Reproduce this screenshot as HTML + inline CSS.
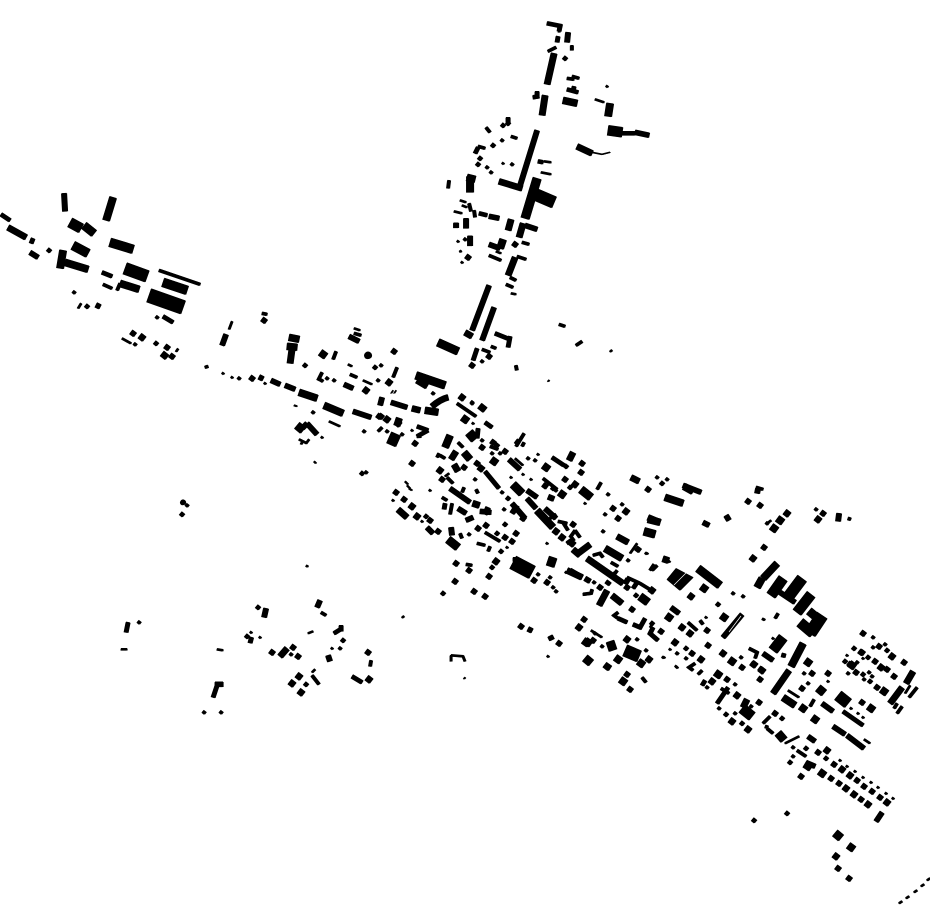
<!DOCTYPE html>
<html><head><meta charset="utf-8"><title>Map</title>
<style>html,body{margin:0;padding:0;background:#fff}svg{display:block}</style></head>
<body>
<svg xmlns="http://www.w3.org/2000/svg" width="930" height="924" viewBox="0 0 930 924" fill="none" stroke="#000" stroke-linejoin="miter">
<rect width="930" height="924" fill="#fff" stroke="none"/>
<g id="m">
<path stroke-width="1" d="M592 152L602 154L610 152M391 393l2-3M394 393l2-3"/>
<path stroke-width="1.5" d="M405 481l3 3M407 485l3 3M409 488l3 2M294 405l3 1M314 461l2 2"/>
<path stroke-width="2" d="M560 25L559 32M460 200L466 202M454 211L462 213M462 205l5 2M348 364L352 366M363 380L372 384M541 172L551 174M544 161L551 162M496 251L501 253M595 99L604 102M511 293L516 294M460 250L461 252M217 649L223 650M121 649L127 649M313 631l-5 2M449 473L445 476M515 458L523 465M518 439L515 443M637 543L630 553M591 630L602 637M788 690L799 697M864 739L870 743M785 743L799 736M910 685L905 693M767 523l4-3M666 558l4 4M650 627l3-4M451 655L451 661M451 655L463 656L465 661M329 421L340 426M309 439l-3 4M548 380l1 1M899 903l3-2M906 898l3-2M914 892l3-2M921 886l3-2M927 880l3-2M315 669L312 672M232 321l-3 8M81 303l-3 5M122 338l9 5M299 439L307 443M303 440L301 444M354 328L360 330"/>
<path stroke-width="3" d="M567 78L574 79M572 76L579 78M486 127L490 132M511 136L517 138M478 146L485 148M469 203L471 211M474 210L475 217M522 242L529 244M489 255L501 260M517 256L526 259M510 277L516 280M506 284L513 287M449 180L448 188M457 403L476 416M496 348l-5-2M482 349L490 352M397 367L393 377M336 351L333 359M354 333L361 335M350 374L357 377M322 372L318 380M318 378L323 381M262 313L267 314M205 367l3-1M382 427L378 431M421 436L417 436M524 433L516 446M524 442L522 446M458 442L463 447M490 446L498 449M437 457l2-4M440 455L445 458M447 477L453 483M464 487L462 492M476 489L478 493M543 478L557 489M601 482L597 489M553 488l4 3M442 497L447 500M452 503L450 514M460 533L462 538M485 532L500 541M477 543L485 545M490 546l-2 5M466 564L472 565M592 589L591 593L583 594M611 562L618 566M617 570L614 574M593 555L600 553L603 557M657 565L652 570M650 570l4-6M627 577L640 583M640 583L653 591M688 622L697 630M700 620L703 624M695 663L689 667L693 670M702 670L698 674M642 677L646 682M618 612L614 615L618 618M653 627L650 633M756 487L763 489M764 618l-1 2M778 613l-3 5M749 648L757 652L755 658M721 688L729 693M770 716L763 723M767 728L773 733M767 725l-1 3M917 687L909 697M897 703L894 708M902 706L897 713M814 699L810 706M806 756L797 750M559 324L565 326M576 345L582 341M159 270L200 284M120 283L117 290M321 612L326 615M312 675L319 684M371 660L370 666M103 284L112 288M548 51L556 47M550 518L556 514M558 521L567 523M563 522L568 530M575 530L580 537M570 537L575 530M615 572L612 577"/>
<path stroke-width="4" d="M547 23L562 26M558 36L557 42M574 86L573 91M567 89L578 92M508 117l0 5M560 25l-1 6M1 214L10 220M33 238L31 243M477 348L473 360M537 91l0 6M533 97L539 96M478 147L475 153M128 622L126 632M217 685L213 697M352 676L362 682M622 133L635 133M479 213L487 215M102 272L112 276M163 316L173 322M510 336L508 347M495 333L510 339M417 426L428 430M428 430L417 436M485 422L492 427M478 428L477 438M552 457L564 465M485 471L499 488M843 711L863 725M633 624L640 627L645 618M653 627L650 633L658 640M618 618L627 622M637 582L633 588M705 680L702 685M728 687L717 703M334 633L342 628M341 625L341 631M513 559L516 559M784 653L783 657M606 581L610 584M538 161L543 162M445 503L444 509M567 543L574 538"/>
<path stroke-width="5" d="M537 130L520 185M489 285L472 330M494 307L482 340M226 334L222 345M64 193L65 211M568 32L567 42M635 132L649 135M489 216L499 218M525 225L537 229M489 244L500 248M30 252L38 257M353 411L371 417M271 380L280 384M285 385L295 389M344 384L353 388M391 402L407 407M380 405L382 397M512 503L525 518M517 505L512 513M527 490L537 497M527 498L536 508M545 508L556 518M450 488L470 502M466 520L473 517M488 507L485 514M480 511L491 512M458 508L466 513M570 570L582 577M585 578L590 581M665 497l5 2M683 485L701 492M742 614L723 637M763 653L773 660M792 665L803 643M822 703L833 711M833 726L845 734M847 735L864 748M808 736L815 741M805 768L808 763L815 766M671 607L679 613M307 423L317 434M266 608L264 617M320 600L317 607M328 655L330 661M509 459l11 10M543 484l4 3M215 684L223 684M466 218L466 228M349 336L359 341M427 527L433 533M451 527L452 535M882 812L876 821M780 592L795 602M839 513L838 521M307 423L302 428M703 522l6 3M726 515l3 5M758 488L757 493"/>
<path stroke-width="6" d="M554 53L547 84M545 95L542 115M499 181L522 188M511 219L508 230M523 223L519 237M515 257L508 275M577 146L592 153M8 227L26 237M292 348L290 363M465 332L472 336M417 380L427 386M432 406Q440 399 448 397M412 408L420 410M451 459l5-8M454 464L458 471M552 495l-2 5M513 484l9 9M578 553L590 544M573 549L580 555M587 558L623 583M607 590L599 605M612 595L622 603M648 517L660 522M567 570l15 7M617 536L628 542M718 674l3 2M789 670L773 693M913 671L906 683M902 687L890 703M287 648L280 656M607 666l3 2M162 353l5 4M398 509L407 517M573 452L569 460M631 477L639 481M743 707L747 699"/>
<path stroke-width="7" d="M610 103L608 116M470 176L470 192M467 177L475 179M425 410L438 412M299 392L317 398M324 405L343 413M289 337L299 339M287 346L297 347M106 220L113 197M60 268L63 250M65 262L88 269M120 283L139 289M477 501L475 507M450 435L445 447M605 548L622 558M537 510L553 527M665 497L683 503M648 519l12 3M783 697L795 705M803 643L791 666M777 563L763 578M762 578L757 587M464 452l6 7M563 100L577 103M503 239L500 248M684 486L693 491"/>
<path stroke-width="8" d="M438 342L458 351M448 539L458 547M581 489L591 497M644 531L655 534M698 568L720 585M553 557L550 566M610 641L613 650M513 484l9 9M84 225l10 8M416 375L445 385M297 425L303 430M640 596L648 602"/>
<path stroke-width="9" d="M469 432L475 439M73 245L88 253M110 242L133 249M163 282L187 290"/>
<path stroke-width="10" d="M608 130L622 132M70 222L81 228M783 578L771 595M811 594L797 612M800 622L813 633M783 637L773 650"/>
<path stroke-width="11" d="M802 578L787 598M838 695L848 703"/>
<path stroke-width="12" d="M533 193L554 202M125 268L147 276M389 437L398 441M822 615L810 633M625 650L639 656"/>
<path stroke-width="14" d="M149 295L183 307M513 562L532 572"/>
<path stroke-width="8.5" d="M537 178L525 218"/>
<path stroke="none" fill="#000" d="M676 568L693 577L680 590L667 579Z"/>
<circle cx="368" cy="355" r="3.5" fill="#000" stroke="none"/>
<circle cx="183" cy="502" r="2.6" fill="#000" stroke="none"/>
<g stroke-width="2" transform="translate(-1,-.7)"><path d="M607 86l2 1.5M503 163l2 1.5M458 241l2 1.5M462 262l2 1.5M223 373l2 1.5M232 377l2 1.5M265 383l2 1.5M412 430l2 1.5M322 437l2 1.5M585 503l2 1.5M473 423l2 1.5M511 477l2 1.5M523 474l2 1.5M531 479l2 1.5M538 454l2 1.5M393 500l2 1.5M422 521l2 1.5M507 547l2 1.5M547 543l2 1.5M566 572l2 1.5M647 553l2 1.5M646 553l2 1.5M663 657l2 1.5M676 666l2 1.5M706 617l2 1.5M670 649l2 1.5M548 656l2 1.5M664 657l2 1.5M677 667l2 1.5M847 655l2 1.5M863 658l2 1.5M851 708l2 1.5M858 713l2 1.5M863 717l2 1.5M828 681l2 1.5M840 760l2 1.5M847 766l2 1.5M855 771l2 1.5M863 777l2 1.5M871 782l2 1.5M878 787l2 1.5M886 793l2 1.5M893 798l2 1.5M611 352l2-1.5M251 632l2 1.5M260 637l2 1.5M332 648l2 1.5M403 618l2-1.5M465 678l1 1M307 566l2 1M177 352l2-3M430 490l2 1.5M773 638l2 1.5"/></g>
<g stroke-width="3" transform="translate(-1.2,-1)"><path d="M502 140l2.5 2M487 167l2.5 2M491 172l2.5 2M512 164l2.5 2M465 239l2.5 2M573 46l0 5M378 380l2.5 2M381 365l2.5 2M433 393l2.5 2M239 378l2.5 2M327 378l2.5 2M334 380l2.5 2M313 412l2.5 2M364 431l2.5 2M387 431l2.5 2M402 434l2.5 2M472 403l2.5 2M472 402l2.5 2M482 440l2.5 2M500 453l2.5 2M492 453l2.5 2M535 460l2.5 2M528 458l2.5 2M502 492l2.5 2M475 479l2.5 2M608 494l2.5 2M605 514l2.5 2M622 504l2.5 2M603 531l2.5 2M628 560l2.5 2M469 534l2.5 2M538 574l2.5 2M550 577l2.5 2M553 587l2.5 2M556 591l2.5 2M594 582l2.5 2M595 633l2.5 2M602 646l2.5 2M637 639l2.5 2M646 650l2.5 2M677 653l2.5 2M686 658l2.5 2M733 593l2.5 2M741 657l2.5 2M873 637l2.5 2M873 647l2.5 2M885 644l2.5 2M857 662l2.5 2M848 673l2.5 2M869 672l2.5 2M872 676l2.5 2M864 679l2.5 2M804 673l2.5 2M808 683l2.5 2M793 747l2.5 2M793 756l2.5 2M707 687l2.5 2M751 706l2.5 2M719 708l2.5 2M735 713l2.5 2M735 684l2.5 2M139 622l2.5 2M204 712l2.5 2M221 712l2.5 2M291 654l2.5 2M340 648l2.5 2M517 366l1 5M366 472l2.5 2M157 317l2.5 2M135 344l2.5 2M74 292l2.5 2M851 518l-1 3M767 523l2.5 2M743 596l2.5 2M482 361l2.5 2M187 505l2.5 2M504 509l2.5 2M816 509l2.5 2M657 477l2.5 2M667 479l2.5 2"/></g>
<g stroke-width="4" transform="translate(-1.5,-1.2)"><path d="M508 123l3 2.5M503 125l3 2.5M493 145l3 2.5M480 158l3 2.5M478 164l3 2.5M565 58l3 2.5M375 367l3 2.5M305 365l3 2.5M362 473l3 2.5M505 524l3 2.5M497 445l3 2.5M497 533l3 2.5M501 551l3 2.5M508 498l3 2.5M492 567l3 2.5M443 593l3 2.5M426 516l3 2.5M442 479l3 2.5M553 488l3 2.5M566 466l3 2.5M570 487l3 2.5M636 595l3 2.5M652 623l3 2.5M686 648l3 2.5M718 604l3 2.5M754 820l3 2.5M854 648l3 2.5M868 657l3 2.5M845 661l3 2.5M863 674l3 2.5M870 681l3 2.5M806 748l3 2.5M782 718l3 2.5M742 723l3 2.5M726 714l3 2.5M790 762l3 2.5M826 758l3 2.5M887 650l3 2.5M787 813l3 2.5M247 636l3 2.5M258 607l3 2.5M306 684l3 2.5M343 640l3 2.5M87 306l3 2.5M156 343l3 2.5M49 250l3 2.5M182 514l3 2.5M662 483l3 2.5"/></g>
<g stroke-width="5" transform="translate(-2,-1.5)"><path d="M264 320l4 3M381 416l4 3M396 492l4 3M404 499l4 3M415 443l4 3M412 463l4 3M394 351l4 3M482 447l4 3M493 442l4 3M505 451l4 3M477 463l4 3M464 467l4 3M442 479l4 3M430 520l4 3M438 531l4 3M478 528l4 3M486 525l4 3M516 533l4 3M505 537l4 3M512 541l4 3M456 563l4 3M469 570l4 3M489 576l4 3M455 581l4 3M474 591l4 3M485 596l4 3M534 580l4 3M547 582l4 3M600 587l4 3M573 524l4 3M582 463l4 3M581 472l4 3M565 479l4 3M648 489l4 3M613 508l4 3M618 518l4 3M638 549l4 3M521 626l4 3M530 630l4 2M552 637l2 4M559 643l4 3M584 619l4 3M593 640l4 3M627 674l4 3M630 689l4 3M649 659l4 3M661 631l4 3M692 653l4 3M708 645l4 3M707 630l4 3M727 679l4 3M753 664l4 3M761 669l4 3M742 667l4 3M760 679l4 3M748 501l4 3M760 505l4 3M764 547l4 3M863 633l4 3M879 646l4 3M862 652l4 3M875 661l4 3M887 669l4 3M894 676l4 3M861 652l4 3M850 664l4 3M856 672l4 3M877 687l4 3M904 662l4 3M892 656l4 3M828 673l4 3M802 688l4 3M775 713l4 3M862 702l4 3M812 673l4 3M801 776l4 3M818 752l4 3M834 764l4 3M831 778l4 3M839 783l4 3M857 780l4 3M864 786l4 3M872 791l4 3M880 797l4 3M861 799l4 3M759 702l4 3M849 878l4 3M838 868l4 3M272 652l4 3M293 647l4 3M298 656l4 3M368 652l4 3M133 333l4 3M167 347l4 3M172 356l4 3M98 306l4 2M472 237l0 10M458 224l0 5M468 257l4 3M252 378l4 3M261 378l4 2M379 416l4 3M515 244l4 3M472 365l4 3M489 356l4 3M523 518l4 3M823 513l4 3M632 609l4 3M630 580l-3 5M627 587l4 3"/></g>
<g stroke-width="6" transform="translate(-2.3,-1.7)"><path d="M462 397l4.5 3.5M366 390l4.5 3.5M389 382l4.5 3.5M387 419l4.5 3.5M398 423l4.5 3.5M481 468l4.5 3.5M440 470l4.5 3.5M412 506l4.5 3.5M417 516l4.5 3.5M496 561l4.5 3.5M575 484l4.5 3.5M556 531l4.5 3.5M562 537l4.5 3.5M572 543l4.5 3.5M626 511l4.5 3.5M691 596l4.5 3.5M579 627l4.5 3.5M627 639l4.5 3.5M607 666l4.5 3.5M649 659l4.5 3.5M675 642l4.5 3.5M690 633l4.5 3.5M682 627l4.5 3.5M701 659l4.5 3.5M723 653l4.5 3.5M712 681l4.5 3.5M737 695l4.5 3.5M732 721l4.5 3.5M748 729l4.5 3.5M724 617l4.5 3.5M787 513l4.5 3.5M818 519l4.5 3.5M754 664l4.5 3.5M762 670l4.5 3.5M753 558l4.5 3.5M892 656l4.5 3.5M881 667l4.5 3.5M827 750l4.5 3.5M842 769l4.5 3.5M850 775l4.5 3.5M846 788l4.5 3.5M854 794l4.5 3.5M868 804l4.5 3.5M887 802l4.5 3.5M836 856l4.5 3.5M299 676l4.5 3.5M292 683l4.5 3.5M301 692l4.5 3.5M369 679l4.5 3.5M251 641l4 1M142 337l4.5 3.5M669 558l-2 6M652 590l4.5 3.5"/></g>
<g stroke-width="7" transform="translate(-2.7,-2)"><path d="M465 419l5.5 4M483 412l4 -5M546 467l5.5 4M494 461l5.5 4M562 494l5.5 4M588 642l5.5 4M586 642l5.5 4M669 617l5.5 4M641 663l5.5 4M618 659l5.5 4M623 681l5.5 4M704 588l5.5 4M724 617l5.5 4M732 661l5.5 4M780 520l5.5 4M774 528l5.5 4M808 662l5.5 4M808 766l5.5 4M822 773l5.5 4M884 691l5.5 4M852 665l5.5 4M871 708l5.5 4M803 708l5.5 4M815 719l5.5 4M851 847l5.5 4M323 354l5.5 4M718 674l5.5 4"/></g>
<g stroke-width="8" transform="translate(-3,-2.4)"><path d="M588 660l6 5M821 690l6 5M632 653l6 5M838 835l6 5M781 735l6 7M812 613l6 5M398 423l6 2"/></g>
<path stroke-width="10" d="M742 708l10 8"/>
</g>
<use href="#m" transform="translate(.6 .45)"/>
<use href="#m" transform="translate(-.45 .6)"/>
<path stroke="#fff" stroke-width=".7" d="M688 571L674 585M729 632L741 616"/>
</svg>
</body></html>
